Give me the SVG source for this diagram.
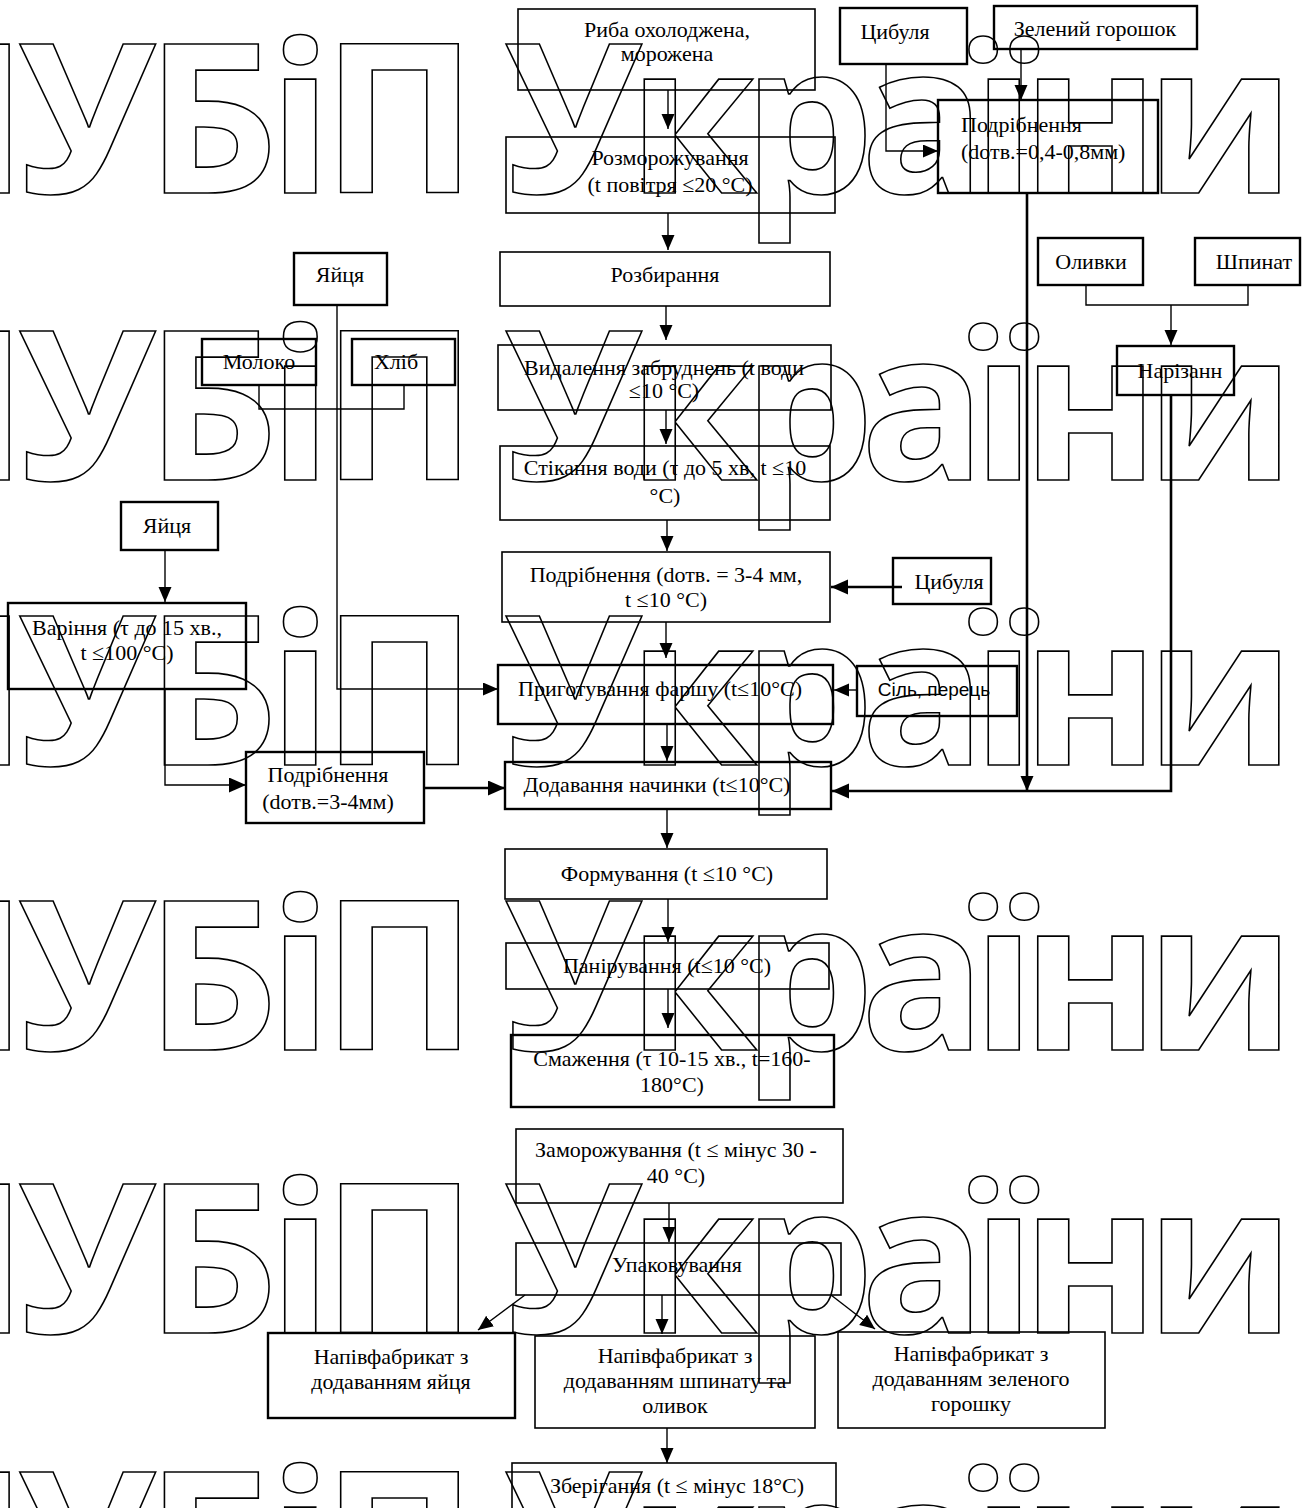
<svg xmlns="http://www.w3.org/2000/svg" width="1312" height="1508" viewBox="0 0 1312 1508">
<style>
.bx{fill:none;stroke:#000;stroke-width:1.6}
.bk{fill:none;stroke:#000;stroke-width:2.4}
.t{font-family:"Liberation Serif","Times New Roman",serif;font-size:22px;fill:#000;text-anchor:middle}
.tl{text-anchor:start}
.s{font-family:"Liberation Sans",Arial,sans-serif;font-size:19px;fill:#000;text-anchor:middle}
.ln{fill:none;stroke:#000;stroke-width:1.4}
.lk{fill:none;stroke:#000;stroke-width:2.6}
.wm{font-family:"Open Sans",sans-serif;font-weight:700;font-size:208px;fill:none;stroke:#000;stroke-width:1.6;letter-spacing:-14px}
.w1{letter-spacing:-10px;text-anchor:end}
</style>
<defs>
<marker id="a" markerUnits="userSpaceOnUse" markerWidth="16" markerHeight="14" refX="15" refY="6.5" orient="auto"><path d="M0,0 L15,6.5 L0,13 z" fill="#000"/></marker>
<marker id="ak" markerUnits="userSpaceOnUse" markerWidth="18" markerHeight="16" refX="17" refY="7.5" orient="auto"><path d="M0,0 L17,7.5 L0,15 z" fill="#000"/></marker>
</defs>

<g id="n-ryba"><rect class="bx" x="518" y="9" width="297" height="81"/><text class="t" x="667" y="37">Риба  охолоджена,</text><text class="t" x="667" y="61">морожена</text></g>
<g id="n-rozmor"><rect class="bx" x="506" y="137" width="329" height="76"/><text class="t" x="670" y="165">Розморожування</text><text class="t" x="670" y="192">(t повітря ≤20 °С)</text></g>
<g id="n-rozbyr"><rect class="bx" x="500" y="252" width="330" height="54"/><text class="t" x="665" y="282">Розбирання</text></g>
<g id="n-vydal"><rect class="bx" x="498" y="345" width="333" height="65"/><text class="t" x="664" y="375">Видалення забруднень (t води</text><text class="t" x="664" y="398">≤10 °С)</text></g>
<g id="n-stik"><rect class="bx" x="500" y="446" width="330" height="74"/><text class="t" x="665" y="475">Стікання води (τ до 5 хв, t ≤10</text><text class="t" x="665" y="503">°С)</text></g>
<g id="n-podr1"><rect class="bx" x="502" y="552" width="328" height="70"/><text class="t" x="666" y="582">Подрібнення (dотв. = 3-4 мм,</text><text class="t" x="666" y="607">t ≤10 °С)</text></g>
<g id="n-tsyb2"><rect class="bk" x="893" y="558" width="98" height="46"/><text class="t" x="949" y="589">Цибуля</text></g>
<g id="n-yaitsia1"><rect class="bk" x="294" y="253" width="93" height="52"/><text class="t" x="340" y="282">Яйця</text></g>
<g id="n-moloko"><rect class="bk" x="202" y="339" width="114" height="46"/><text class="t" x="259" y="369">Молоко</text></g>
<g id="n-khlib"><rect class="bk" x="352" y="339" width="103" height="46"/><text class="t" x="396" y="369">Хліб</text></g>
<g id="n-yaitsia2"><rect class="bk" x="121" y="502" width="97" height="48"/><text class="t" x="167" y="533">Яйця</text></g>
<g id="n-varinnia"><rect class="bk" x="8" y="603" width="238" height="86"/><text class="t" x="127" y="635">Варіння (τ до 15 хв.,</text><text class="t" x="127" y="660">t ≤100 °С)</text></g>
<g id="n-prygot"><rect class="bk" x="498" y="665" width="335" height="59"/><text class="t" x="660" y="696">Приготування фаршу (t≤10°С)</text></g>
<g id="n-sil"><rect class="bk" x="857" y="666" width="160" height="50"/><text class="s" x="934" y="696">Сіль, перець</text></g>
<g id="n-podr3"><rect class="bk" x="246" y="752" width="178" height="71"/><text class="t" x="328" y="782">Подрібнення</text><text class="t" x="328" y="809">(dотв.=3-4мм)</text></g>
<g id="n-dodav"><rect class="bk" x="505" y="762" width="326" height="47"/><text class="t" x="657" y="792">Додавання начинки (t≤10°С)</text></g>
<g id="n-tsyb1"><rect class="bk" x="840" y="8" width="127" height="56"/><text class="t" x="895" y="39">Цибуля</text></g>
<g id="n-horoshok"><rect class="bk" x="994" y="6" width="203" height="43"/><text class="t" x="1095" y="36">Зелений горошок</text></g>
<g id="n-podr2"><rect class="bk" x="938" y="100" width="220" height="93"/><text class="t tl" x="961" y="132">Подрібнення</text><text class="t tl" x="961" y="159">(dотв.=0,4-0,8мм)</text></g>
<g id="n-olyvky"><rect class="bk" x="1038" y="238" width="105" height="47"/><text class="t" x="1091" y="269">Оливки</text></g>
<g id="n-shpynat"><rect class="bk" x="1195" y="238" width="105" height="47"/><text class="t" x="1254" y="269">Шпинат</text></g>
<g id="n-nariz"><rect class="bk" x="1117" y="346" width="117" height="49"/><text class="t" x="1180" y="378">Нарізанн</text></g>
<g id="n-form"><rect class="bx" x="505" y="849" width="322" height="50"/><text class="t" x="667" y="881">Формування  (t ≤10 °С)</text></g>
<g id="n-panir"><rect class="bx" x="506" y="943" width="323" height="46"/><text class="t" x="667" y="973">Панірування  (t≤10 °С)</text></g>
<g id="n-smazh"><rect class="bk" x="511" y="1035" width="323" height="72"/><text class="t" x="672" y="1066">Смаження (τ 10-15 хв., t=160-</text><text class="t" x="672" y="1092">180°С)</text></g>
<g id="n-zamor"><rect class="bx" x="516" y="1129" width="327" height="74"/><text class="t" x="676" y="1157">Заморожування (t ≤ мінус 30 -</text><text class="t" x="676" y="1183">40 °С)</text></g>
<g id="n-upak"><rect class="bx" x="516" y="1243" width="325" height="52"/><text class="t" x="677" y="1272">Упаковування</text></g>
<g id="n-nap1"><rect class="bk" x="268" y="1333" width="247" height="85"/><text class="t" x="391" y="1364">Напівфабрикат з</text><text class="t" x="391" y="1389">додаванням яйця</text></g>
<g id="n-nap2"><rect class="bx" x="535" y="1336" width="280" height="92"/><text class="t" x="675" y="1363">Напівфабрикат з</text><text class="t" x="675" y="1388">додаванням шпинату та</text><text class="t" x="675" y="1413">оливок</text></g>
<g id="n-nap3"><rect class="bx" x="838" y="1332" width="267" height="96"/><text class="t" x="971" y="1361">Напівфабрикат з</text><text class="t" x="971" y="1386">додаванням зеленого</text><text class="t" x="971" y="1411">горошку</text></g>
<g id="n-zber"><rect class="bx" x="512" y="1463" width="324" height="60"/><text class="t" x="677" y="1493">Зберігання  (t  ≤ мінус 18°С)</text></g>

<g id="connectors">
<path class="ln" marker-end="url(#a)" d="M668,90 V129"/>
<path class="ln" marker-end="url(#a)" d="M668,213 V250"/>
<path class="ln" marker-end="url(#a)" d="M666,306 V340"/>
<path class="ln" marker-end="url(#a)" d="M666,410 V444"/>
<path class="ln" marker-end="url(#a)" d="M667,520 V551"/>
<path class="ln" marker-end="url(#a)" d="M666,622 V658"/>
<path class="ln" marker-end="url(#a)" d="M667,724 V761"/>
<path class="ln" marker-end="url(#a)" d="M667,809 V848"/>
<path class="ln" marker-end="url(#a)" d="M668,899 V942"/>
<path class="ln" marker-end="url(#a)" d="M668,989 V1028"/>
<path class="ln" marker-end="url(#a)" d="M669,1203 V1242"/>
<path class="ln" marker-end="url(#a)" d="M662,1295 V1334"/>
<path class="ln" marker-end="url(#a)" d="M667,1428 V1463"/>
<path class="ln" marker-end="url(#a)" d="M525,1295 L478,1330"/>
<path class="ln" marker-end="url(#a)" d="M831,1295 L875,1329"/>
<path class="lk" marker-end="url(#ak)" d="M902,587 H831"/>
<path class="ln" marker-end="url(#a)" d="M857,690 H834"/>
<path class="ln" marker-end="url(#a)" d="M337,305 V689 H498"/>
<path class="ln" d="M259,385 V409 H404 V385"/>
<path class="ln" marker-end="url(#a)" d="M165,550 V602"/>
<path class="ln" marker-end="url(#ak)" d="M165,689 V785 H246"/>
<path class="lk" marker-end="url(#ak)" d="M424,788 H505"/>
<path class="ln" marker-end="url(#a)" d="M886,64 V151 H938"/>
<path class="ln" marker-end="url(#a)" d="M1021,49 V100"/>
<path class="lk" marker-end="url(#a)" d="M1027,193 V791"/>
<path class="ln" d="M1086,285 V305 H1248 V285"/>
<path class="ln" marker-end="url(#a)" d="M1171,305 V345"/>
<path class="lk" marker-end="url(#ak)" d="M1171,395 V791 H832"/>
</g>

<g id="watermark" class="wm">
<text class="w1" x="467" y="193">НУБіП</text><text x="504" y="193">України</text>
<text class="w1" x="467" y="480">НУБіП</text><text x="504" y="480">України</text>
<text class="w1" x="467" y="765">НУБіП</text><text x="504" y="765">України</text>
<text class="w1" x="467" y="1050">НУБіП</text><text x="504" y="1050">України</text>
<text class="w1" x="467" y="1333">НУБіП</text><text x="504" y="1333">України</text>
<text class="w1" x="467" y="1621">НУБіП</text><text x="504" y="1621">України</text>
</g>
</svg>
